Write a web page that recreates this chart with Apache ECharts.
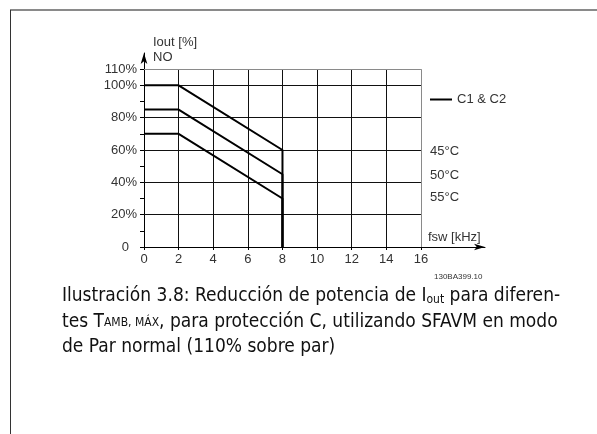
<!DOCTYPE html>
<html><head><meta charset="utf-8">
<script src="https://cdn.jsdelivr.net/npm/echarts@6/dist/echarts.min.js"></script>
<style>html,body{margin:0;padding:0;background:#fff;}#c{width:597px;height:434px;}</style>
</head><body><div id="c"></div>
<script>
// ---- data ----
const freqKHz = [0, 2, 8, 8];
const iout45 = [100, 100, 60, 0];
const iout50 = [85, 85, 45, 0];
const iout55 = [70, 70, 30, 0];
const seriesNames = ['45°C', '50°C', '55°C'];
const legendName = 'C1 & C2';
const xTickValues = [0, 2, 4, 6, 8, 10, 12, 14, 16];
const yLabelValues = [0, 20, 40, 60, 80, 100, 110];
const yTickValues = [0, 10, 20, 30, 40, 50, 60, 70, 80, 90, 100, 110];
const gridXValues = [2, 4, 6, 8, 10, 12, 14, 16];
const gridYValues = [20, 40, 60, 80, 100, 110];
const xLimit = 16, yLimit = 110;

const chart = echarts.init(document.getElementById('c'), null, {renderer: 'canvas'});
const AX = 'Liberation Sans, Arial, sans-serif';
const CAP = 'DejaVu Sans Condensed, DejaVu Sans, sans-serif';

function pairs(xs, ys) { return xs.map((x, i) => [x, ys[i]]); }

const gridLines = [];
gridXValues.forEach(x => gridLines.push([
  {coord: [x, 0], lineStyle: {color: x === xLimit ? '#8a8a8a' : '#111', width: 1, type: 'solid'}},
  {coord: [x, yLimit]}
]));
gridYValues.forEach(y => gridLines.push([
  {coord: [0, y], lineStyle: {color: y === yLimit ? '#8a8a8a' : '#111', width: 1, type: 'solid'}},
  {coord: [xLimit, y]}
]));

const lineSeries = [iout45, iout50, iout55].map((d, i) => ({
  name: seriesNames[i], type: 'line', data: pairs(freqKHz, d),
  symbol: 'none', z: 5, silent: true,
  lineStyle: {color: '#000', width: 2}
}));

chart.setOption({
  animation: false,
  grid: {left: 144, right: 112, top: 53, bottom: 187},
  xAxis: {
    type: 'value', min: 0, max: 19.7,
    splitLine: {show: false},
    axisLine: {show: true, symbol: ['none', 'arrow'], symbolSize: [5, 11], lineStyle: {color: '#000', width: 1}},
    axisTick: {show: true, customValues: xTickValues, length: 3, lineStyle: {color: '#000'}},
    axisLabel: {customValues: xTickValues, margin: 6, color: '#333', fontFamily: AX, fontSize: 13}
  },
  yAxis: {
    type: 'value', min: 0, max: 120,
    splitLine: {show: false},
    axisLine: {show: true, symbol: ['none', 'arrow'], symbolSize: [5, 11], lineStyle: {color: '#000', width: 1}},
    axisTick: {show: true, customValues: yTickValues, length: 4, lineStyle: {color: '#000'}},
    axisLabel: {
      customValues: yLabelValues, margin: 7, color: '#333', fontFamily: AX, fontSize: 13,
      formatter: v => v === 0 ? '{z|0}' : v + '%',
      rich: {z: {padding: [0, 8, 0, 0], color: '#333', fontFamily: AX, fontSize: 13}}
    }
  },
  legend: {
    left: 430, top: 93, padding: 0, itemWidth: 22, itemHeight: 2, icon: 'rect', itemGap: 5,
    data: [{name: legendName}], selectedMode: false,
    textStyle: {color: '#333', fontFamily: AX, fontSize: 13}
  },
  series: [
    {name: legendName, type: 'line', data: [], itemStyle: {color: '#000'}, lineStyle: {color: '#000'},
     markLine: {silent: true, symbol: 'none', label: {show: false}, animation: false, data: gridLines}},
    ...lineSeries
  ],
  graphic: [
    {type: 'line', shape: {x1: 10, y1: 10, x2: 597, y2: 10}, style: {stroke: '#8a8a8a', lineWidth: 2}},
    {type: 'line', shape: {x1: 10.5, y1: 10, x2: 10.5, y2: 434}, style: {stroke: '#333', lineWidth: 1}},
    {type: 'text', left: 153, top: 36, style: {text: 'Iout [%]', fill: '#333', font: '13px ' + AX}},
    {type: 'text', left: 153, top: 51, style: {text: 'NO', fill: '#333', font: '13px ' + AX}},
    {type: 'text', left: 428, top: 231, style: {text: 'fsw [kHz]', fill: '#333', font: '13px ' + AX}},
    {type: 'text', left: 434, top: 273, style: {text: '130BA399.10', fill: '#333', font: '8px ' + AX}},
    {type: 'text', left: 430, top: 145, style: {text: seriesNames[0], fill: '#333', font: '13px ' + AX}},
    {type: 'text', left: 430, top: 169, style: {text: seriesNames[1], fill: '#333', font: '13px ' + AX}},
    {type: 'text', left: 430, top: 191, style: {text: seriesNames[2], fill: '#333', font: '13px ' + AX}},
    {type: 'text', left: 62, top: 287, style: {
      text: 'Ilustración 3.8: Reducción de potencia de I{s|out} para diferen-',
      fill: '#111', font: '19px ' + CAP,
      rich: {s: {fontSize: 12, fontFamily: CAP, fill: '#111', verticalAlign: 'bottom'}}
    }},
    {type: 'text', left: 62, top: 313, style: {
      text: 'tes T{s|AMB, MÁX}, para protección C, utilizando SFAVM en modo',
      fill: '#111', font: '19px ' + CAP,
      rich: {s: {fontSize: 12, fontFamily: CAP, fill: '#111'}}
    }},
    {type: 'text', left: 62, top: 338, style: {
      text: 'de Par normal (110% sobre par)', fill: '#111', font: '19px ' + CAP
    }}
  ]
});
</script></body></html>
